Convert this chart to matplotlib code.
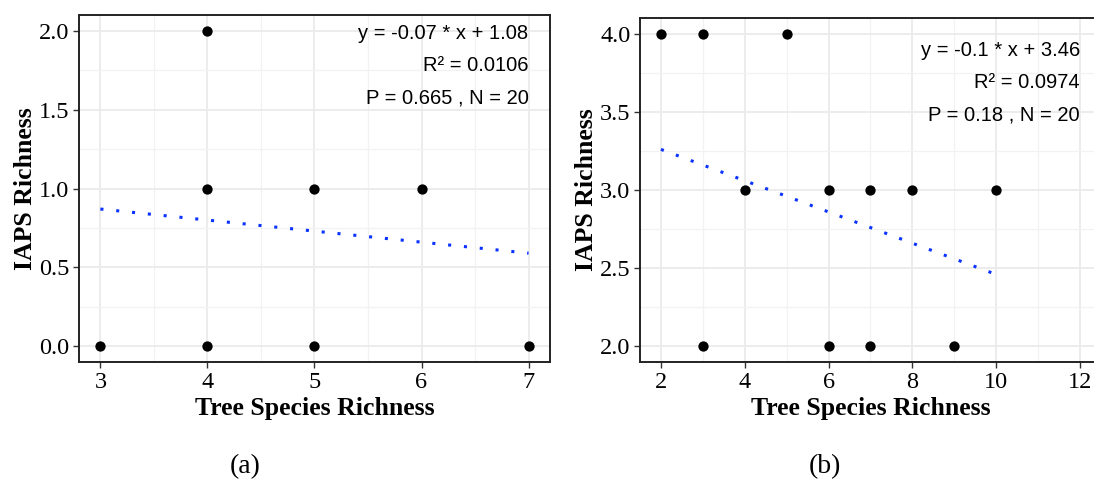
import matplotlib
matplotlib.use("Agg")
import matplotlib.pyplot as plt
from matplotlib.ticker import MultipleLocator, FormatStrFormatter

# panel (a): tree species richness vs IAPS richness
a_x = [3, 4, 4, 4, 5, 5, 6, 7]
a_y = [0, 0, 1, 2, 0, 1, 1, 0]
a_slope, a_intercept = -0.07, 1.08
a_stats = ["y = -0.07 * x + 1.08", "R² = 0.0106", "P = 0.665 , N = 20"]

# panel (b)
b_x = [2, 3, 5, 4, 6, 7, 8, 10, 3, 6, 7, 9]
b_y = [4, 4, 4, 3, 3, 3, 3, 3, 2, 2, 2, 2]
b_slope, b_intercept = -0.1, 3.46
b_stats = ["y = -0.1 * x + 3.46", "R² = 0.0974", "P = 0.18 , N = 20"]

SERIF = "Liberation Serif"
SANS = "Liberation Sans"


def panel(ax, xs, ys, slope, intercept, stats, xlim, ylim, xmaj, ymaj, label_x, label_y0):
    ax.set_xlim(*xlim)
    ax.set_ylim(*ylim)
    ax.xaxis.set_major_locator(MultipleLocator(xmaj))
    ax.xaxis.set_minor_locator(MultipleLocator(xmaj / 2))
    ax.yaxis.set_major_locator(MultipleLocator(ymaj))
    ax.yaxis.set_minor_locator(MultipleLocator(ymaj / 2))
    ax.yaxis.set_major_formatter(FormatStrFormatter("%.1f"))
    ax.grid(which="major", color="#ebebeb", lw=1.3)
    ax.grid(which="minor", color="#f2f2f2", lw=0.9)
    ax.set_axisbelow(True)
    ax.tick_params(which="minor", length=0)
    ax.tick_params(which="major", length=4, width=1, color="#333333",
                   labelsize=17.5, pad=3)
    for lab in ax.get_xticklabels() + ax.get_yticklabels():
        lab.set_fontfamily(SERIF)
    for sp in ax.spines.values():
        sp.set_linewidth(1.4)
        sp.set_color("#222222")

    x0, x1 = min(xs), max(xs)
    ax.plot([x0, x1], [slope * x0 + intercept, slope * x1 + intercept],
            color="#0a32ff", lw=2.2, linestyle=(0, (1.0, 4.2)), zorder=2)
    ax.scatter(xs, ys, s=55, color="black", zorder=3, linewidths=0)

    ax.set_xlabel("Tree Species Richness", fontfamily=SERIF, fontweight="bold",
                  fontsize=18.5, labelpad=3)
    ax.set_ylabel("IAPS Richness", fontfamily=SERIF, fontweight="bold",
                  fontsize=18.5, labelpad=1)

    step = (ylim[1] - ylim[0]) * 0.094
    for i, t in enumerate(stats):
        ax.text(label_x, label_y0 - i * step, t, ha="right", va="center",
                fontfamily=SANS, fontsize=14.5)


fig = plt.figure(figsize=(10.94, 4.84), dpi=100)
ax_a = fig.add_axes([0.0722, 0.252, 0.4305, 0.717])
ax_b = fig.add_axes([0.585, 0.252, 0.4214, 0.7107])

panel(ax_a, a_x, a_y, a_slope, a_intercept, a_stats,
      (2.8, 7.2), (-0.1, 2.1), 1, 0.5, 7, 1.985)
panel(ax_b, b_x, b_y, b_slope, b_intercept, b_stats,
      (1.5, 12.5), (1.9, 4.1), 2, 0.5, 12, 3.895)

fig.text(0.224, 0.036, "(a)", ha="center", va="center", fontfamily=SERIF, fontsize=20)
fig.text(0.754, 0.036, "(b)", ha="center", va="center", fontfamily=SERIF, fontsize=20)

fig.savefig("out.png", dpi=100)
